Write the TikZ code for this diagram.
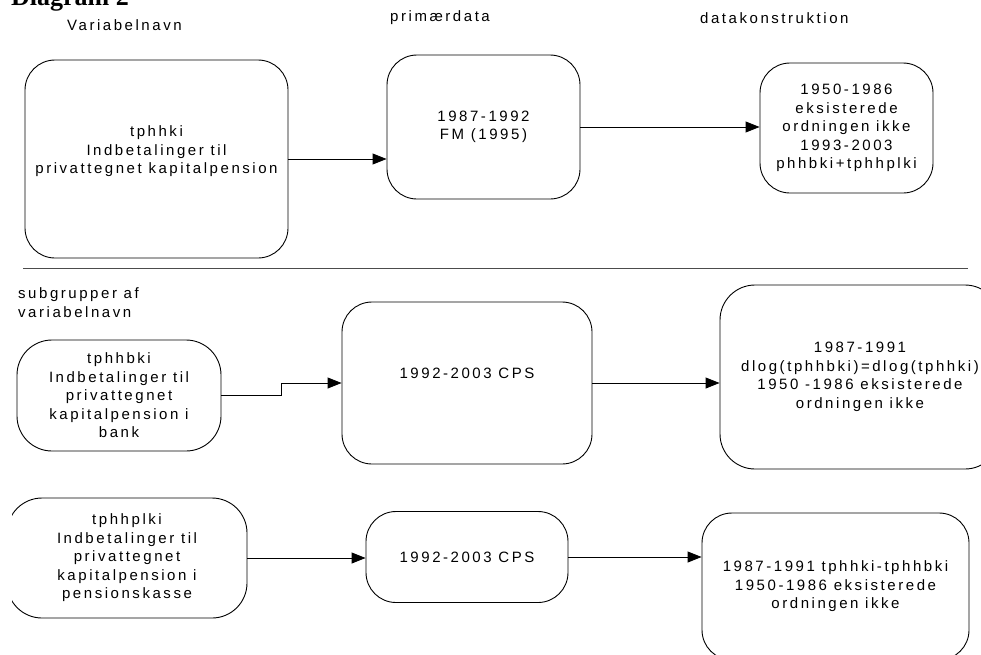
\documentclass[tikz,border=0pt]{standalone}
\usepackage{fontspec}
\setmainfont{Liberation Sans}[LetterSpace=17]
\newfontfamily\titlefont{Liberation Serif}
\usetikzlibrary{arrows.meta}

\begin{document}
\begin{tikzpicture}[x=1pt,y=-1pt,
  every node/.style={font=\fontsize{15}{18.5}\selectfont, align=center, inner sep=0pt},
  rbox/.style={draw=black, line width=0.9pt, rounded corners=30pt},
  link/.style={draw=black, line width=0.9pt, -{Triangle[length=14pt,width=11pt]}},
  header/.style={anchor=west},
]
\useasboundingbox (0,0) rectangle (981,654);

% title and column headers
\node[anchor=base west, font=\titlefont\bfseries\fontsize{26}{26}\selectfont] (title) at (11,5) {Diagram 2};
\node[header] (hvar) at (67,25) {Variabelnavn};
\node[header] (hprim) at (390,18) {primærdata};
\node[header] (hdata) at (700,18) {datakonstruktion};

% main variable (an empty last line lifts the text a little)
\node[rbox, minimum width=263pt, minimum height=198pt] (A) at (156.5,159)
  {tphhki\\Indbetalinger til\\privattegnet kapitalpension\\~};
\node[rbox, minimum width=193pt, minimum height=144pt] (B) at (483.5,127)
  {1987-1992\\FM (1995)};
\node[rbox, minimum width=173pt, minimum height=130pt] (C) at (846.5,128)
  {1950-1986\\eksisterede\\ordningen ikke\\1993-2003\\phhbki+tphhplki};

\draw[link] (A.east) -- (A.east -| B.west);
\draw[link] (B.east) -- (B.east -| C.west);

% separator
\draw[draw=black!70, line width=0.9pt] (23,268) coordinate (sepL) -- (968,268) coordinate (sepR);

% subgroups
\node[anchor=west, align=left] (hsub) at (18,302.5) {subgrupper af\\variabelnavn};

\node[rbox, rounded corners=35pt, minimum width=204pt, minimum height=111pt] (D) at (119,395.5)
  {tphhbki\\Indbetalinger til\\privattegnet\\kapitalpension i\\bank};
\node[rbox, minimum width=250pt, minimum height=162pt] (E) at (467,383)
  {1992-2003 CPS\\~};
\node[rbox, rounded corners=35pt, minimum width=280pt, minimum height=184pt] (F) at (860,377)
  {1987-1991\\dlog(tphhbki)=dlog(tphhki)\\1950 -1986 eksisterede\\ordningen ikke};

\draw[link] (D.east) -- ++(60,0) |- (E.west);
\draw[link] (E.east) -- (E.east -| F.west);

\begin{scope}
  \clip (12,470) rectangle (981,654);
  \node[rbox, rounded corners=35pt, minimum width=240pt, minimum height=120pt] (G) at (127,558)
    {tphhplki\\Indbetalinger til\\privattegnet\\kapitalpension i\\pensionskasse};
\end{scope}
\node[rbox, minimum width=202pt, minimum height=91pt] (I) at (467,557)
  {1992-2003 CPS};
\node[rbox, minimum width=267pt, minimum height=147pt] (H) at (835.5,586.5)
  {1987-1991 tphhki-tphhbki\\1950-1986 eksisterede\\ordningen ikke};

\draw[link] (G.east) -- (G.east -| I.west);
\draw[link] (I.east) -- (I.east -| H.west);
\end{tikzpicture}
\end{document}
